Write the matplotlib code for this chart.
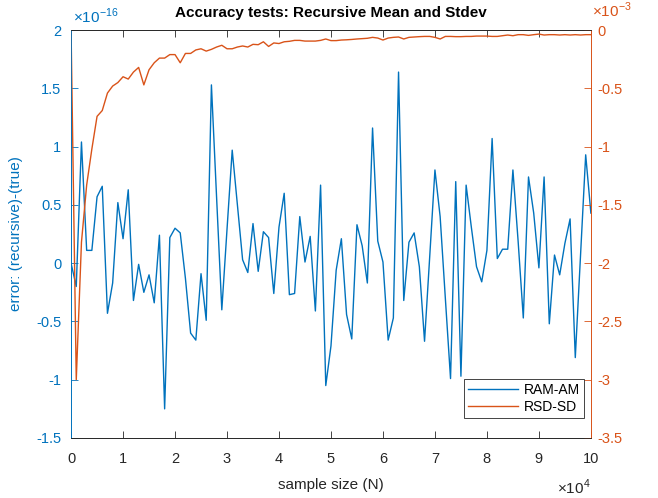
import matplotlib.pyplot as plt
import numpy as np
from matplotlib.ticker import FuncFormatter

plt.rcParams['font.family'] = ['Liberation Sans', 'DejaVu Sans']
plt.rcParams['mathtext.fontset'] = 'custom'
plt.rcParams['mathtext.rm'] = 'Liberation Sans'

# sample sizes N, in units of 1e4 (one point every 1000 samples)
sample_size = np.arange(0, 101) / 10

# RAM-AM error, units of 1e-16
ram_am = [0.0, -0.20, 1.04, 0.11, 0.11, 0.57, 0.66, -0.43, -0.17, 0.52,
          0.21, 0.63, -0.32, -0.01, -0.25, -0.10, -0.34, 0.24, -1.25, 0.22,
          0.30, 0.26, -0.13, -0.60, -0.66, -0.09, -0.49, 1.53, 0.56, -0.40,
          0.29, 0.97, 0.50, 0.03, -0.08, 0.34, -0.07, 0.27, 0.22, -0.26,
          0.31, 0.60, -0.27, -0.26, 0.40, 0.01, 0.23, -0.41, 0.67, -1.05,
          -0.71, -0.06, 0.21, -0.44, -0.65, 0.33, 0.15, -0.17, 1.16, 0.19,
          0.01, -0.66, -0.47, 1.64, -0.32, 0.18, 0.26, -0.03, -0.67, 0.06,
          0.80, 0.40, -0.30, -0.99, 0.70, -0.97, 0.67, 0.31, -0.03, -0.16,
          0.11, 1.07, 0.04, 0.12, 0.12, 0.80, 0.19, -0.47, 0.74, 0.43,
          -0.04, 0.74, -0.52, 0.07, -0.10, 0.17, 0.38, -0.81, 0.06, 0.93,
          0.43]

# RSD-SD error, units of 1e-3
rsd_sd = [0.0, -3.0, -1.82, -1.33, -1.02, -0.74, -0.69, -0.54, -0.48, -0.45,
          -0.40, -0.42, -0.36, -0.32, -0.47, -0.34, -0.28, -0.24, -0.24, -0.21,
          -0.21, -0.28, -0.20, -0.20, -0.17, -0.16, -0.18, -0.165, -0.145, -0.13,
          -0.16, -0.16, -0.145, -0.136, -0.145, -0.122, -0.125, -0.10, -0.14, -0.11,
          -0.115, -0.10, -0.096, -0.088, -0.088, -0.094, -0.094, -0.094, -0.088, -0.076,
          -0.09, -0.09, -0.085, -0.083, -0.08, -0.076, -0.073, -0.07, -0.062, -0.068,
          -0.085, -0.068, -0.062, -0.059, -0.076, -0.062, -0.059, -0.056, -0.054, -0.054,
          -0.062, -0.076, -0.054, -0.054, -0.056, -0.056, -0.054, -0.054, -0.051, -0.051,
          -0.051, -0.054, -0.054, -0.048, -0.042, -0.048, -0.039, -0.039, -0.045, -0.039,
          -0.034, -0.042, -0.039, -0.039, -0.042, -0.039, -0.042, -0.039, -0.042, -0.039,
          -0.039]

blue = '#0072BD'
orange = '#D95319'
dark = '#262626'

fig = plt.figure(figsize=(6.58, 4.98), dpi=100)
ax = fig.add_axes([0.108, 0.1205, 0.790, 0.819])
ax2 = ax.twinx()

l1, = ax.plot(sample_size, ram_am, color=blue, lw=1.0)
l2, = ax2.plot(sample_size, rsd_sd, color=orange, lw=1.0)

ax.set_xlim(0, 10)
ax.set_ylim(-1.5, 2)
ax2.set_ylim(-3.5, 0)
ax.set_xticks(np.arange(0, 11, 1))
ax.set_yticks(np.arange(-1.5, 2.01, 0.5))
ax2.set_yticks(np.arange(-3.5, 0.01, 0.5))

# matlab style labels: plain hyphen, no trailing zeros
fmt = FuncFormatter(lambda v, p: ('%g' % round(v, 3)).replace('\u2212', '-'))
ax.xaxis.set_major_formatter(fmt)
ax.yaxis.set_major_formatter(fmt)
ax2.yaxis.set_major_formatter(fmt)

ax.tick_params(axis='x', direction='in', top=True, length=5, width=0.6,
               colors=dark, labelsize=10.5, pad=10)
ax.tick_params(axis='y', direction='in', length=5, width=0.6,
               colors=blue, labelsize=10.5, pad=7)
ax2.tick_params(axis='y', direction='in', length=5, width=0.6,
                colors=orange, labelsize=10.5, pad=5)

for a in (ax, ax2):
    a.spines['top'].set_color(dark)
    a.spines['bottom'].set_color(dark)
    a.spines['left'].set_color(blue)
    a.spines['right'].set_color(orange)
    for s in a.spines.values():
        s.set_linewidth(0.6)

# exponent labels
ax.text(0.003, 1.01, r'$\times10^{-16}$', transform=ax.transAxes, color=blue,
        fontsize=11, ha='left', va='bottom')
ax2.text(1.002, 1.025, r'$\times10^{-3}$', transform=ax.transAxes, color=orange,
         fontsize=11, ha='left', va='bottom')
ax.text(1.0, -0.098, r'$\times10^{4}$', transform=ax.transAxes, color=dark,
        fontsize=11, ha='right', va='top')

ax.set_title('Accuracy tests: Recursive Mean and Stdev', fontsize=11,
             fontweight='bold', color='black', pad=9.5)
ax.set_xlabel('sample size (N)', fontsize=11, color=dark)
ax.xaxis.set_label_coords(0.5, -0.098)
ax.set_ylabel('error: (recursive)-(true)', fontsize=11, color=blue)
ax.yaxis.set_label_coords(-0.092, 0.5)

leg = ax2.legend([l1, l2], ['RAM-AM', 'RSD-SD'], loc='lower right',
                 bbox_to_anchor=(0.9865, 0.049), borderaxespad=0,
                 fancybox=False, edgecolor=dark, fontsize=10,
                 handlelength=3.6, handletextpad=0.4, labelspacing=0.2,
                 borderpad=0.3, framealpha=1)
leg.get_frame().set_linewidth(0.6)

fig.savefig('out.png', dpi=100)
